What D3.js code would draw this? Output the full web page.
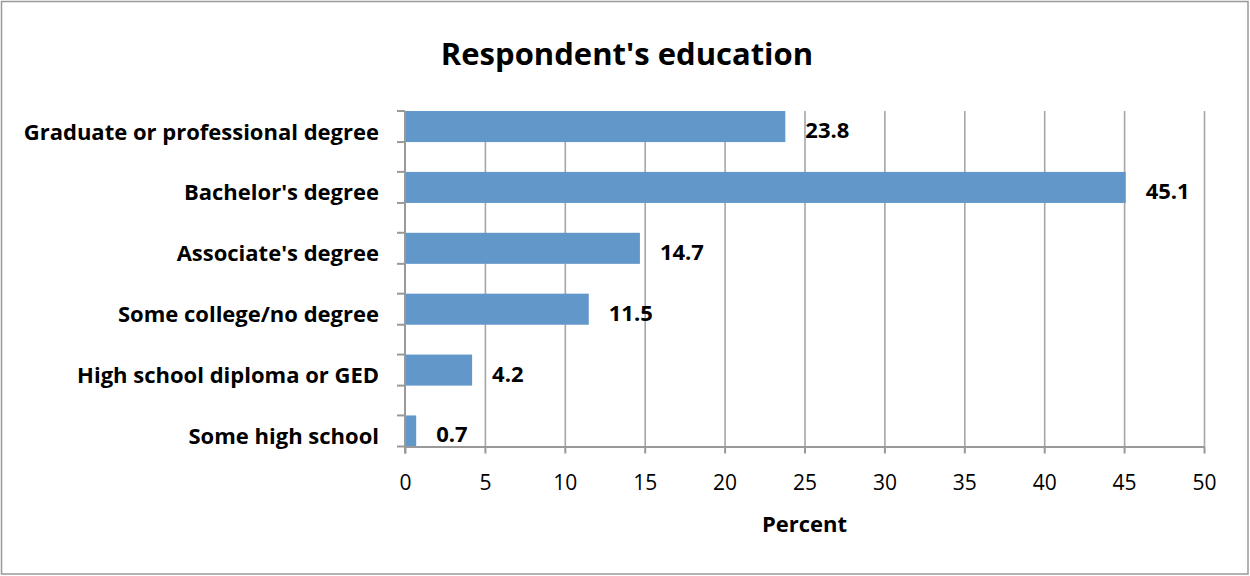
<!DOCTYPE html>
<html>
<head>
<meta charset="utf-8">
<script src="https://cdn.jsdelivr.net/npm/d3@7"></script>
<style>
  html, body { margin: 0; padding: 0; background: #fff; }
  svg { display: block; font-family: "Open Sans", Lato, sans-serif; }
</style>
</head>
<body>
<svg id="chart" width="1250" height="576"></svg>
<script>
/* data */
const categories = [
  "Graduate or professional degree",
  "Bachelor's degree",
  "Associate's degree",
  "Some college/no degree",
  "High school diploma or GED",
  "Some high school"
];
const percents = [23.8, 45.1, 14.7, 11.5, 4.2, 0.7];
const xTicks = [0, 5, 10, 15, 20, 25, 30, 35, 40, 45, 50];
const chartTitle = "Respondent's education";
const xTitle = "Percent";

/* layout */
const W = 1250, H = 576;
const plot = {left: 405, right: 1204, top: 111, bottom: 446.5};
const barColor = "#6297c9";
const gridColor = "#a6a6a6";
const axisColor = "#999999";

const svg = d3.select("#chart");

// outer frame
svg.append("rect")
  .attr("x", 1.5).attr("y", 1.5)
  .attr("width", W - 3.5).attr("height", H - 3.5)
  .attr("fill", "#fff")
  .attr("stroke", "#999")
  .attr("stroke-width", 1.5);

// scales
const x = d3.scaleLinear()
  .domain([0, 50])
  .range([plot.left, plot.right]);

const y = d3.scaleBand()
  .domain(categories)
  .range([plot.top, plot.bottom])
  .paddingInner(0.49)
  .paddingOuter(0);

// vertical grid lines
const grid = svg.append("g")
  .attr("transform", `translate(0,${plot.bottom})`)
  .call(d3.axisBottom(x).tickValues(xTicks.slice(1))
    .tickSize(-(plot.bottom - plot.top)).tickFormat(""));
grid.select(".domain").remove();
grid.selectAll("line")
  .attr("stroke", gridColor)
  .attr("stroke-width", 1.6);

// bars
svg.append("g")
  .selectAll("rect")
  .data(categories)
  .join("rect")
  .attr("x", x(0))
  .attr("y", d => y(d))
  .attr("width", (d, i) => x(percents[i]) - x(0))
  .attr("height", y.bandwidth())
  .attr("fill", barColor);

// x axis
const xAxis = svg.append("g")
  .attr("transform", `translate(0,${plot.bottom})`)
  .call(d3.axisBottom(x).tickValues(xTicks).tickSize(7).tickSizeOuter(0).tickPadding(0));
xAxis.select(".domain")
  .attr("stroke", axisColor).attr("stroke-width", 2);
xAxis.selectAll(".tick line")
  .attr("stroke", axisColor).attr("stroke-width", 2);
xAxis.selectAll(".tick text")
  .attr("y", 43.5).attr("dy", null)
  .attr("fill", "#000")
  .style("font-size", "21px")
  .style("font-family", "'Open Sans', sans-serif");

// y axis line
svg.append("line")
  .attr("x1", x(0)).attr("x2", x(0))
  .attr("y1", plot.top).attr("y2", plot.bottom + 7)
  .attr("stroke", axisColor).attr("stroke-width", 2);

// y ticks at bar edges
const edges = categories.flatMap(c => [y(c), y(c) + y.bandwidth()]);
svg.append("g")
  .selectAll("line")
  .data(edges)
  .join("line")
  .attr("x1", x(0) - 8).attr("x2", x(0))
  .attr("y1", d => d).attr("y2", d => d)
  .attr("stroke", axisColor).attr("stroke-width", 2);

// category labels
svg.append("g")
  .selectAll("text")
  .data(categories)
  .join("text")
  .attr("x", 379)
  .attr("y", d => y(d) + y.bandwidth() / 2 + 13)
  .attr("text-anchor", "end")
  .style("font-size", "22px")
  .style("font-weight", "bold")
  .text(d => d);

// value labels
svg.append("g")
  .selectAll("text")
  .data(categories)
  .join("text")
  .attr("x", (d, i) => x(percents[i]) + 20)
  .attr("y", d => y(d) + y.bandwidth() / 2 + 11.5)
  .style("font-size", "22px")
  .style("font-weight", "bold")
  .text((d, i) => percents[i].toFixed(1));

// titles
svg.append("text")
  .attr("x", 627).attr("y", 65)
  .attr("text-anchor", "middle")
  .style("font-size", "31px")
  .style("font-weight", "bold")
  .text(chartTitle);

svg.append("text")
  .attr("x", (plot.left + plot.right) / 2).attr("y", 532)
  .attr("text-anchor", "middle")
  .style("font-size", "22px")
  .style("font-weight", "bold")
  .text(xTitle);
</script>
</body>
</html>
